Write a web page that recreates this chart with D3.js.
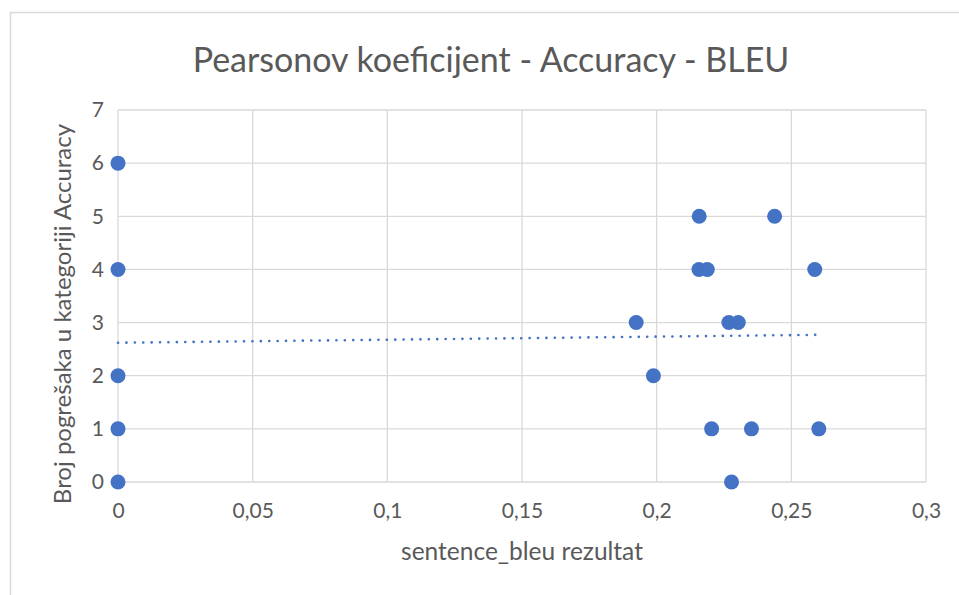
<!DOCTYPE html>
<html>
<head>
<meta charset="utf-8">
<script src="https://cdn.jsdelivr.net/npm/d3@7"></script>
<style>
  body { margin: 0; background: #fff; }
  text { font-family: Lato, "Open Sans", sans-serif; fill: #595959; }
</style>
</head>
<body>
<div id="chart"></div>
<script>
// vrijednosti procitane sa slike
const bleu = [0, 0, 0, 0, 0, 0.2158, 0.2438, 0.2157, 0.2188, 0.2587, 0.1924, 0.2268, 0.2303, 0.1988, 0.2204, 0.2352, 0.2602, 0.2278];
const greske = [6, 4, 2, 1, 0, 5, 5, 4, 4, 4, 3, 3, 3, 2, 1, 1, 1, 0];
// krajevi linije trenda (linearni)
const trendX = [0, 0.2602];
const trendY = [2.62, 2.77];
const xTicks = [0, 0.05, 0.1, 0.15, 0.2, 0.25, 0.3];
const yTicks = [0, 1, 2, 3, 4, 5, 6, 7];

const W = 959, H = 595;
const margin = { top: 110, right: 33, bottom: 113, left: 118 };
const width = W - margin.left - margin.right,
      height = H - margin.top - margin.bottom;

const svg = d3.select("#chart").append("svg")
    .attr("width", W)
    .attr("height", H);

// okvir grafikona
svg.append("rect")
    .attr("x", 10.5).attr("y", 12.5)
    .attr("width", W + 20).attr("height", H + 20)
    .attr("fill", "none")
    .attr("stroke", "#d9d9d9")
    .attr("stroke-width", 1.5);

const g = svg.append("g")
    .attr("transform", `translate(${margin.left},${margin.top})`);

const x = d3.scaleLinear().domain([0, 0.3]).range([0, width]);
const y = d3.scaleLinear().domain([0, 7]).range([height, 0]);

// mreza
g.selectAll(".hgrid").data(yTicks).enter().append("line")
    .attr("x1", 0).attr("x2", width)
    .attr("y1", d => y(d)).attr("y2", d => y(d))
    .attr("stroke", "#d9d9d9").attr("stroke-width", 1.3);
g.selectAll(".vgrid").data(xTicks).enter().append("line")
    .attr("x1", d => x(d)).attr("x2", d => x(d))
    .attr("y1", 0).attr("y2", height)
    .attr("stroke", "#d9d9d9").attr("stroke-width", 1.3);

// osi - samo oznake
const fmt = d => String(d).replace(".", ",");
const xAxis = g.append("g")
    .attr("transform", `translate(0,${height})`)
    .call(d3.axisBottom(x).tickValues(xTicks).tickFormat(fmt).tickSize(0).tickPadding(21));
const yAxis = g.append("g")
    .call(d3.axisLeft(y).tickValues(yTicks).tickFormat(fmt).tickSize(0).tickPadding(14));
[xAxis, yAxis].forEach(a => {
    a.select(".domain").remove();
    a.selectAll("text").style("font-size", "21px").attr("fill", "#595959");
});

// linija trenda
g.append("line")
    .attr("x1", x(trendX[0])).attr("y1", y(trendY[0]))
    .attr("x2", x(trendX[1])).attr("y2", y(trendY[1]))
    .attr("stroke", "#4472c4")
    .attr("stroke-width", 2.6)
    .attr("stroke-linecap", "round")
    .attr("stroke-dasharray", "0.1 8.3");

// tocke
g.selectAll(".dot").data(bleu).enter().append("circle")
    .attr("cx", d => x(d))
    .attr("cy", (d, i) => y(greske[i]))
    .attr("r", 7.5)
    .attr("fill", "#4472c4");

// naslovi
svg.append("text")
    .attr("x", 491).attr("y", 72)
    .attr("text-anchor", "middle")
    .style("font-size", "34px")
    .text("Pearsonov koeficijent - Accuracy - BLEU");

svg.append("text")
    .attr("x", margin.left + width / 2).attr("y", 560)
    .attr("text-anchor", "middle")
    .style("font-size", "24.5px")
    .text("sentence_bleu rezultat");

svg.append("text")
    .attr("transform", `translate(71,${margin.top + height / 2 + 18}) rotate(-90)`)
    .attr("text-anchor", "middle")
    .style("font-size", "24px")
    .text("Broj pogrešaka u kategoriji Accuracy");
</script>
</body>
</html>
